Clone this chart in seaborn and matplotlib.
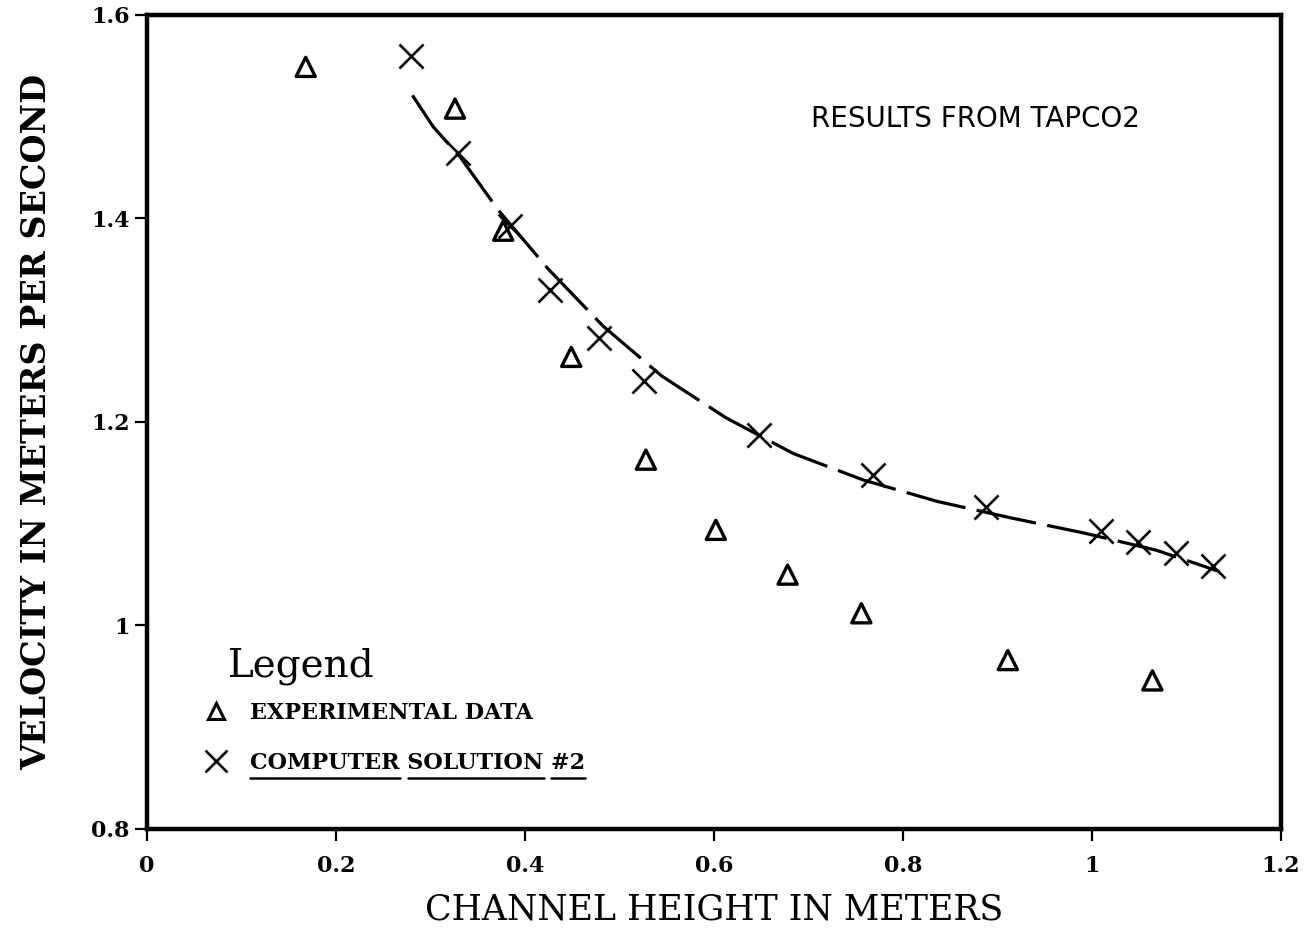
import matplotlib
matplotlib.use("Agg")
import matplotlib.pyplot as plt
import seaborn as sns
import pandas as pd
from matplotlib.lines import Line2D
from matplotlib import font_manager

# ---------------- data ----------------
exp_height = [0.168, 0.326, 0.377, 0.449, 0.528, 0.602, 0.678, 0.756, 0.911, 1.064]
exp_velocity = [1.549, 1.508, 1.388, 1.264, 1.163, 1.094, 1.050, 1.012, 0.966, 0.946]

sol_height = [0.279, 0.329, 0.384, 0.427, 0.478, 0.526, 0.648, 0.768, 0.888,
              1.010, 1.049, 1.089, 1.128]
sol_velocity = [1.560, 1.464, 1.393, 1.330, 1.283, 1.240, 1.187, 1.148, 1.116,
                1.093, 1.082, 1.071, 1.058]

fit_height = [0.281, 0.303, 0.331, 0.372, 0.425, 0.483, 0.545, 0.613, 0.684,
              0.758, 0.836, 0.913, 0.991, 1.068, 1.135]
fit_velocity = [1.521, 1.490, 1.461, 1.408, 1.350, 1.294, 1.245, 1.204, 1.169,
                1.143, 1.122, 1.106, 1.091, 1.074, 1.053]

x_ticks = [0, 0.2, 0.4, 0.6, 0.8, 1.0, 1.2]
x_tick_labels = ["0", "0.2", "0.4", "0.6", "0.8", "1", "1.2"]
y_ticks = [0.8, 1.0, 1.2, 1.4, 1.6]
y_tick_labels = ["0.8", "1", "1.2", "1.4", "1.6"]

legend_labels = ["EXPERIMENTAL DATA", "COMPUTER SOLUTION #2"]
x_label = "CHANNEL HEIGHT IN METERS"
y_label = "VELOCITY IN METERS PER SECOND"
note = "RESULTS FROM TAPCO2"

exp_df = pd.DataFrame({"height": exp_height, "velocity": exp_velocity})
sol_df = pd.DataFrame({"height": sol_height, "velocity": sol_velocity})
fit_df = pd.DataFrame({"height": fit_height, "velocity": fit_velocity})

# ---------------- figure ----------------
sns.set_style("white")
plt.rcParams["font.family"] = ["DejaVu Serif", "DejaVu Sans"]
plt.rcParams["text.color"] = "black"
plt.rcParams["axes.labelcolor"] = "black"
plt.rcParams["xtick.color"] = "black"
plt.rcParams["ytick.color"] = "black"

fig = plt.figure(figsize=(13.12, 9.31), dpi=100)
ax = fig.add_axes([0.1120, 0.1096, 0.8643, 0.8743])

# fitted curve (long dashes)
sns.lineplot(data=fit_df, x="height", y="velocity", sort=False, ax=ax,
             color="black", lw=2.3, dashes=False, estimator=None)
ax.lines[-1].set_dashes((19, 3.6))

# experimental data: open triangles
sns.scatterplot(data=exp_df, x="height", y="velocity", ax=ax, marker="^",
                s=190, color="black", linewidth=2.4)
coll = ax.collections[-1]
coll.set_facecolor("none")
coll.set_edgecolor("black")

# computer solution: x markers
sns.scatterplot(data=sol_df, x="height", y="velocity", ax=ax, marker="x",
                s=300, color="black", linewidth=1.9)

ax.set_xlim(0, 1.2)
ax.set_ylim(0.8, 1.6)
ax.set_xticks(x_ticks)
ax.set_xticklabels(x_tick_labels)
ax.set_yticks(y_ticks)
ax.set_yticklabels(y_tick_labels)

for sp in ax.spines.values():
    sp.set_visible(True)
    sp.set_color("black")
    sp.set_linewidth(3.2)

ax.tick_params(axis="both", which="major", direction="out", length=8.5, width=1.6,
               color="black", labelsize=16, pad=4, bottom=True, left=True,
               top=False, right=False, labelcolor="black")
ax.tick_params(axis="x", pad=10)
for lab in ax.get_xticklabels() + ax.get_yticklabels():
    lab.set_fontweight("bold")
    lab.set_family("DejaVu Serif")

ax.set_xlabel(x_label, fontsize=25, family="DejaVu Serif", color="black")
ax.xaxis.set_label_coords(0.5, -0.078)
ax.set_ylabel(y_label, fontsize=24, family="DejaVu Serif", fontweight="bold",
              color="black")
ax.yaxis.set_label_coords(-0.083, 0.5)

# condensed plotter-like font for the note if available
try:
    font_manager.findfont("Liberation Sans Narrow", fallback_to_default=False)
    note_family, note_size = ["Liberation Sans Narrow", "DejaVu Sans"], 24
except Exception:
    note_family, note_size = ["DejaVu Sans"], 20
ax.text(0.731, 0.8725, note, transform=ax.transAxes, ha="center", va="center",
        fontsize=note_size, family=note_family, color="black")

ax.text(0.0714, 0.1867, "Legend", transform=ax.transAxes, ha="left",
        va="baseline", fontsize=28, family="DejaVu Serif", color="black")

handles = [
    Line2D([], [], linestyle="none", marker="^", markersize=11,
           markerfacecolor="none", markeredgecolor="black", markeredgewidth=2.2),
    Line2D([], [], linestyle="none", marker="x", markersize=16,
           markeredgecolor="black", markeredgewidth=1.9),
]
leg = ax.legend(handles, legend_labels, loc="upper left",
                bbox_to_anchor=(0.0490, 0.1557), frameon=False, borderpad=0,
                borderaxespad=0, handlelength=1.2, handletextpad=0.95,
                labelspacing=1.24,
                prop={"family": "DejaVu Serif", "weight": "bold", "size": 16})
for t in leg.get_texts():
    t.set_color("black")

# underline each word of the second legend entry
fig.canvas.draw()
renderer = fig.canvas.get_renderer()
txt = leg.get_texts()[1]
bb = txt.get_window_extent(renderer)
prop = txt.get_fontproperties()
label = txt.get_text()
words = label.split(" ")
pos = 0
inv = fig.transFigure.inverted()
for w in words:
    start = label.index(w, pos)
    pos = start + len(w)
    w_full, _, _ = renderer.get_text_width_height_descent(label[:pos], prop, ismath=False)
    w_word, _, _ = renderer.get_text_width_height_descent(w, prop, ismath=False)
    x1 = bb.x0 + w_full
    x0 = x1 - w_word
    yline = bb.y0 - 4
    (fx0, fy0) = inv.transform((x0, yline))
    (fx1, fy1) = inv.transform((x1, yline))
    fig.add_artist(Line2D([fx0, fx1], [fy0, fy1], color="black", lw=1.8,
                          transform=fig.transFigure))

fig.savefig("out.png", dpi=100, facecolor="white")
